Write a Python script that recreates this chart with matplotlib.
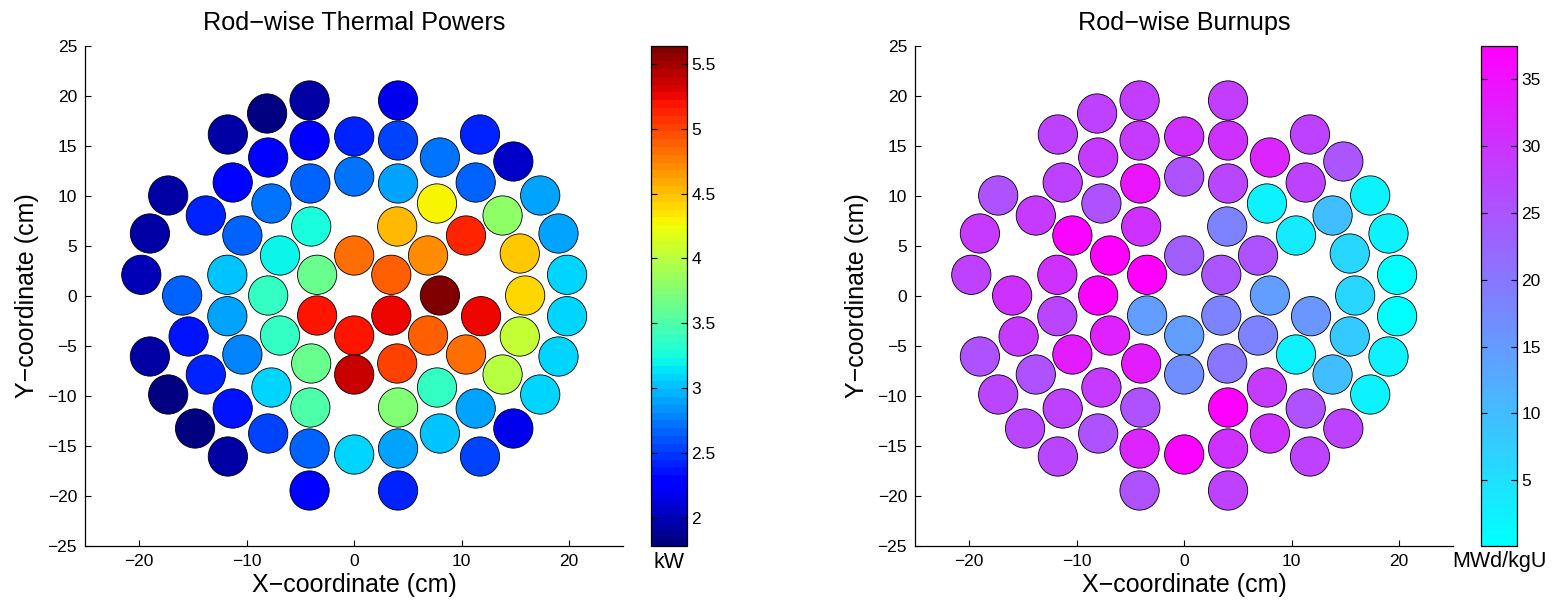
import matplotlib
matplotlib.use("Agg")
import matplotlib.pyplot as plt
import numpy as np

plt.rcParams['font.family'] = ['Liberation Sans', 'DejaVu Sans']

# Rod centre coordinates (cm)
x_cm = [-4.15, 4.08, -8.1, -11.75, -4.15, 0.0, 4.08, 11.7, -8.0, 7.97,
        14.8, -11.3, -4.08, 0.0, 4.08, 11.3, -17.3, -7.7, 7.7, 17.3,
        -13.8, 13.8, -19.0, -10.4, -4.0, 4.0, 10.4, 19.0, -6.9, 0.0,
        6.87, 15.4, -19.8, -11.8, -3.45, 3.45, 19.8, -16.0, -8.0, 7.97,
        15.9, -11.8, -3.45, 3.45, 11.8, 19.8, -15.4, -6.9, 0.0, 6.87,
        15.4, -19.0, -10.4, 10.4, 19.0, -13.8, -4.0, 0.0, 4.0, 13.8,
        -17.3, -7.7, 7.7, 17.3, -11.3, -4.08, 4.08, 11.3, -14.8, 14.8,
        -8.0, 7.97, -11.75, -4.15, 0.0, 4.08, 11.7, -4.15, 4.08]
y_cm = [19.5, 19.5, 18.2, 16.1, 15.5, 15.9, 15.5, 16.1, 13.8, 13.8,
        13.4, 11.3, 11.2, 11.9, 11.2, 11.3, 10.0, 9.2, 9.2, 10.0,
        8.0, 8.0, 6.2, 6.0, 6.9, 6.9, 6.0, 6.2, 4.0, 4.0,
        4.0, 4.2, 2.07, 2.07, 2.07, 2.07, 2.07, 0.0, 0.0, 0.0,
        0.0, -2.07, -2.0, -2.0, -2.07, -2.07, -4.1, -4.0, -4.0, -4.0,
        -4.1, -6.1, -5.9, -5.9, -6.1, -7.9, -6.8, -7.9, -6.8, -7.9,
        -9.9, -9.2, -9.2, -9.9, -11.3, -11.2, -11.2, -11.3, -13.3, -13.3,
        -13.8, -13.8, -16.1, -15.3, -15.9, -15.3, -16.1, -19.5, -19.5]

# Rod-wise thermal power (kW)
power_kw = [1.95, 2.21, 1.85, 1.92, 2.27, 2.45, 2.57, 2.45, 2.27, 2.75,
            2.08, 2.33, 2.64, 2.75, 2.88, 2.64, 1.92, 2.75, 4.31, 2.93,
            2.45, 3.78, 1.95, 2.69, 3.29, 4.50, 5.10, 2.93, 3.18, 4.80,
            4.68, 4.47, 1.99, 3.00, 3.60, 4.87, 3.06, 2.64, 3.41, 5.64,
            4.41, 2.93, 5.16, 5.25, 5.27, 3.06, 2.39, 3.41, 5.16, 4.91,
            4.02, 1.92, 2.81, 4.80, 3.06, 2.45, 3.60, 5.34, 5.02, 3.96,
            1.85, 3.06, 3.41, 3.11, 2.39, 3.53, 3.72, 2.93, 1.79, 2.21,
            2.57, 3.00, 1.92, 2.69, 3.11, 2.88, 2.52, 2.33, 2.45]

# Rod-wise burnup (MWd/kgU)
burnup = [28.2, 28.5, 28.0, 28.0, 29.3, 30.4, 30.4, 28.0, 29.3, 31.8,
          24.8, 28.0, 34.1, 25.8, 27.0, 28.0, 25.8, 25.8, 2.4, 2.4,
          29.3, 9.5, 29.3, 36.4, 30.4, 18.8, 3.5, 2.4, 37.5, 23.6,
          25.8, 6.1, 28.0, 30.4, 37.5, 24.8, 0.13, 30.4, 36.4, 14.2,
          6.1, 27.0, 14.2, 18.8, 15.4, 0.3, 29.3, 32.8, 14.5, 18.8,
          8.3, 25.8, 33.0, 2.4, 2.4, 25.8, 33.0, 16.6, 20.0, 9.5,
          27.0, 29.3, 29.3, 2.4, 28.0, 25.8, 37.5, 25.8, 27.0, 28.0,
          25.8, 30.4, 27.0, 31.8, 36.4, 30.4, 28.0, 25.8, 28.0]

power_ticks = [2, 2.5, 3, 3.5, 4, 4.5, 5, 5.5]
burnup_ticks = [5, 10, 15, 20, 25, 30, 35]
x_ticks = [-20, -10, 0, 10, 20]
y_ticks = [-25, -20, -15, -10, -5, 0, 5, 10, 15, 20, 25]

W, H = 1564, 601
fig = plt.figure(figsize=(W / 100, H / 100), dpi=100)

ax_b = (H - 545.5) / H
ax_h = 500 / H
ax_w = 537.6 / W


def panel(left_px, cb_left_px, values, cmap, title, ticks, unit):
    ax = fig.add_axes([left_px / W, ax_b, ax_w, ax_h])
    sc = ax.scatter(x_cm, y_cm, c=values, cmap=cmap, s=800,
                    edgecolors='black', linewidths=0.6)
    ax.set_xlim(-25, 25)
    ax.set_ylim(-25, 25)
    ax.set_xticks(x_ticks)
    ax.set_yticks(y_ticks)
    for s in ('top', 'right'):
        ax.spines[s].set_visible(False)
    for s in ('left', 'bottom'):
        ax.spines[s].set_linewidth(0.9)
    ax.tick_params(direction='in', length=4, width=0.8, labelsize=12.5,
                   pad=6)
    ax.set_title(title, fontsize=18.2, pad=11)
    ax.set_xlabel('X\u2212coordinate (cm)', fontsize=18, labelpad=3)
    ax.set_ylabel('Y\u2212coordinate (cm)', fontsize=18, labelpad=6)

    cax = fig.add_axes([cb_left_px / W, ax_b, 36 / W, ax_h])
    cb = fig.colorbar(sc, cax=cax)
    cb.set_ticks(ticks)
    cb.set_ticklabels([f'{t:g}' for t in ticks])
    cb.outline.set_linewidth(0.9)
    cax.tick_params(direction='in', length=4, width=0.8, labelsize=12.5,
                    left=True, right=True, pad=3)
    cax.text(0.5, -0.012, unit, transform=cax.transAxes, ha='center',
             va='top', fontsize=15.5)
    return ax


panel(85.4, 651, power_kw, plt.get_cmap('jet', 64),
      'Rod\u2212wise Thermal Powers', power_ticks, 'kW')
panel(915.4, 1481, burnup, plt.get_cmap('cool', 64),
      'Rod\u2212wise Burnups', burnup_ticks, 'MWd/kgU')

fig.savefig('out.png', dpi=100)
